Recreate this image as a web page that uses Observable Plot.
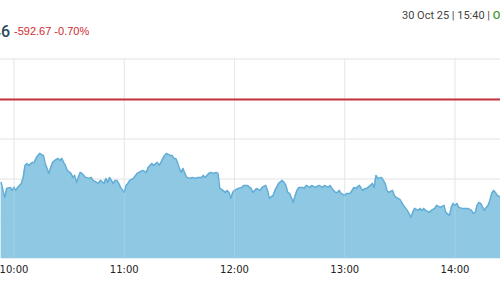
<!DOCTYPE html>
<html>
<head>
<meta charset="utf-8">
<script src="https://cdn.jsdelivr.net/npm/d3@7"></script>
<script src="https://cdn.jsdelivr.net/npm/@observablehq/plot@0.6"></script>
<style>
  html, body { margin: 0; padding: 0; background: #fff; overflow: hidden; width: 500px; height: 300px; }
  #header { position: relative; height: 58px; width: 500px; overflow: hidden; }
  #price { position: absolute; right: 490px; top: 22px; font: 500 16px Roboto, sans-serif; color: #2b4a5c; white-space: nowrap; }
  #change { position: absolute; left: 14px; top: 25px; font: 11px "Liberation Sans", Arial, sans-serif; color: #cf2a2f; white-space: nowrap; }
  #stamp { position: absolute; left: 402px; top: 9px; font: 11px Roboto, sans-serif; color: #444; white-space: nowrap; }
  #stamp .open { color: #3a9a2a; font-weight: 500; }
  #chart svg { display: block; }
</style>
</head>
<body>
<div id="header">
  <span id="price">84,404.46</span>
  <span id="change">-592.67 -0.70%</span>
  <span id="stamp">30 Oct 25 | 15:40 | <span class="open">Open</span></span>
</div>
<div id="chart"></div>
<script>
const times = ["09:53","09:54","09:55","09:56","09:58","09:59","10:00","10:01","10:02","10:04","10:05","10:06","10:07","10:08","10:10","10:11","10:12","10:13","10:14","10:15","10:16","10:17","10:19","10:20","10:21","10:23","10:24","10:25","10:26","10:27","10:28","10:29","10:31","10:32","10:33","10:34","10:35","10:36","10:37","10:38","10:39","10:41","10:42","10:43","10:45","10:46","10:47","10:49","10:50","10:51","10:52","10:53","10:54","10:55","10:56","10:57","10:58","11:00","11:01","11:02","11:03","11:05","11:07","11:08","11:10","11:12","11:13","11:15","11:16","11:18","11:19","11:20","11:21","11:22","11:23","11:25","11:26","11:27","11:28","11:29","11:30","11:31","11:32","11:33","11:34","11:36","11:37","11:39","11:40","11:42","11:43","11:44","11:46","11:47","11:49","11:50","11:51","11:52","11:53","11:55","11:56","11:57","11:58","11:59","12:00","12:02","12:04","12:05","12:07","12:09","12:10","12:12","12:14","12:15","12:17","12:18","12:19","12:21","12:22","12:24","12:26","12:27","12:28","12:29","12:30","12:32","12:33","12:34","12:35","12:37","12:38","12:39","12:41","12:42","12:44","12:46","12:48","12:49","12:51","12:52","12:53","12:55","12:56","12:57","12:58","13:00","13:01","13:03","13:04","13:05","13:06","13:08","13:09","13:10","13:11","13:12","13:14","13:15","13:16","13:17","13:18","13:20","13:21","13:22","13:23","13:24","13:26","13:27","13:28","13:29","13:30","13:32","13:34","13:35","13:36","13:37","13:38","13:40","13:41","13:42","13:43","13:44","13:46","13:47","13:49","13:50","13:52","13:54","13:55","13:57","13:58","13:59","14:00","14:01","14:02","14:04","14:06","14:07","14:09","14:10","14:11","14:12","14:13","14:14","14:16","14:17","14:18","14:19","14:20","14:21","14:22","14:23","14:25"];
const values = [84583,84543,84508,84553,84558,84543,84558,84543,84558,84578,84608,84668,84678,84668,84683,84683,84703,84718,84728,84722,84718,84678,84628,84658,84683,84698,84703,84693,84703,84683,84668,84643,84628,84608,84618,84583,84608,84633,84628,84618,84608,84603,84608,84593,84583,84578,84593,84578,84603,84583,84608,84593,84578,84593,84593,84578,84558,84533,84568,84578,84593,84603,84628,84633,84643,84633,84658,84678,84668,84683,84668,84683,84703,84718,84728,84718,84718,84703,84703,84683,84653,84633,84653,84628,84608,84603,84608,84603,84608,84608,84618,84608,84628,84633,84628,84633,84628,84553,84548,84533,84543,84533,84503,84533,84543,84553,84558,84568,84568,84553,84533,84553,84543,84558,84568,84543,84503,84518,84543,84578,84593,84583,84568,84533,84528,84483,84518,84543,84558,84558,84553,84568,84558,84568,84558,84568,84558,84568,84558,84568,84553,84533,84533,84543,84528,84518,84528,84528,84543,84558,84553,84568,84553,84543,84553,84553,84568,84578,84558,84618,84603,84608,84593,84578,84543,84533,84543,84518,84508,84503,84498,84468,84443,84428,84408,84433,84453,84443,84453,84443,84453,84443,84433,84443,84453,84468,84458,84468,84433,84418,84458,84478,84468,84478,84458,84453,84453,84453,84443,84428,84433,84468,84483,84478,84443,84458,84468,84493,84528,84543,84533,84518,84508];
const prevClose = 84997.13;
const yGrid = [85200, 85000, 84800, 84600, 84400];
const yRange = [84200, 85200];
const hourTicks = ["10:00","11:00","12:00","13:00","14:00"];
const xStart = "09:52:39";
const xEnd = "14:24:46";

const parseHM = d3.utcParse("%H:%M");
const parseHMS = d3.utcParse("%H:%M:%S");
const data = times.map((t, i) => ({t: parseHM(t), v: values[i]}));
const ticks = hourTicks.map(parseHM);

const chart = Plot.plot({
  width: 500,
  height: 242,
  marginLeft: 0,
  marginRight: 0,
  marginTop: 0.5,
  marginBottom: 41.5,
  style: {fontFamily: "DejaVu Sans, sans-serif", fontSize: "10px", color: "#222", background: "#fff"},
  x: {type: "utc", domain: [parseHMS(xStart), parseHMS(xEnd)], ticks: ticks, tickFormat: d3.utcFormat("%H:%M"), tickSize: 0, tickPadding: 7, label: null},
  y: {domain: yRange, axis: null},
  marks: [
    Plot.ruleY(yGrid, {stroke: "#e2e2e2", strokeWidth: 1}),
    Plot.ruleX(ticks, {stroke: "#e2e2e2", strokeWidth: 1}),
    Plot.areaY(data, {x: "t", y1: yRange[0], y2: "v", fill: "#8fc8e2", clip: true}),
    Plot.lineY(data, {x: "t", y: "v", stroke: "#62add6", strokeWidth: 1.5, clip: true}),
    Plot.ruleX(ticks, {stroke: "#ffffff", strokeOpacity: 0.18, strokeWidth: 1}),
    Plot.ruleY([prevClose], {stroke: "#c8323c", strokeWidth: 2})
  ]
});
document.getElementById("chart").appendChild(chart);
</script>
</body>
</html>
